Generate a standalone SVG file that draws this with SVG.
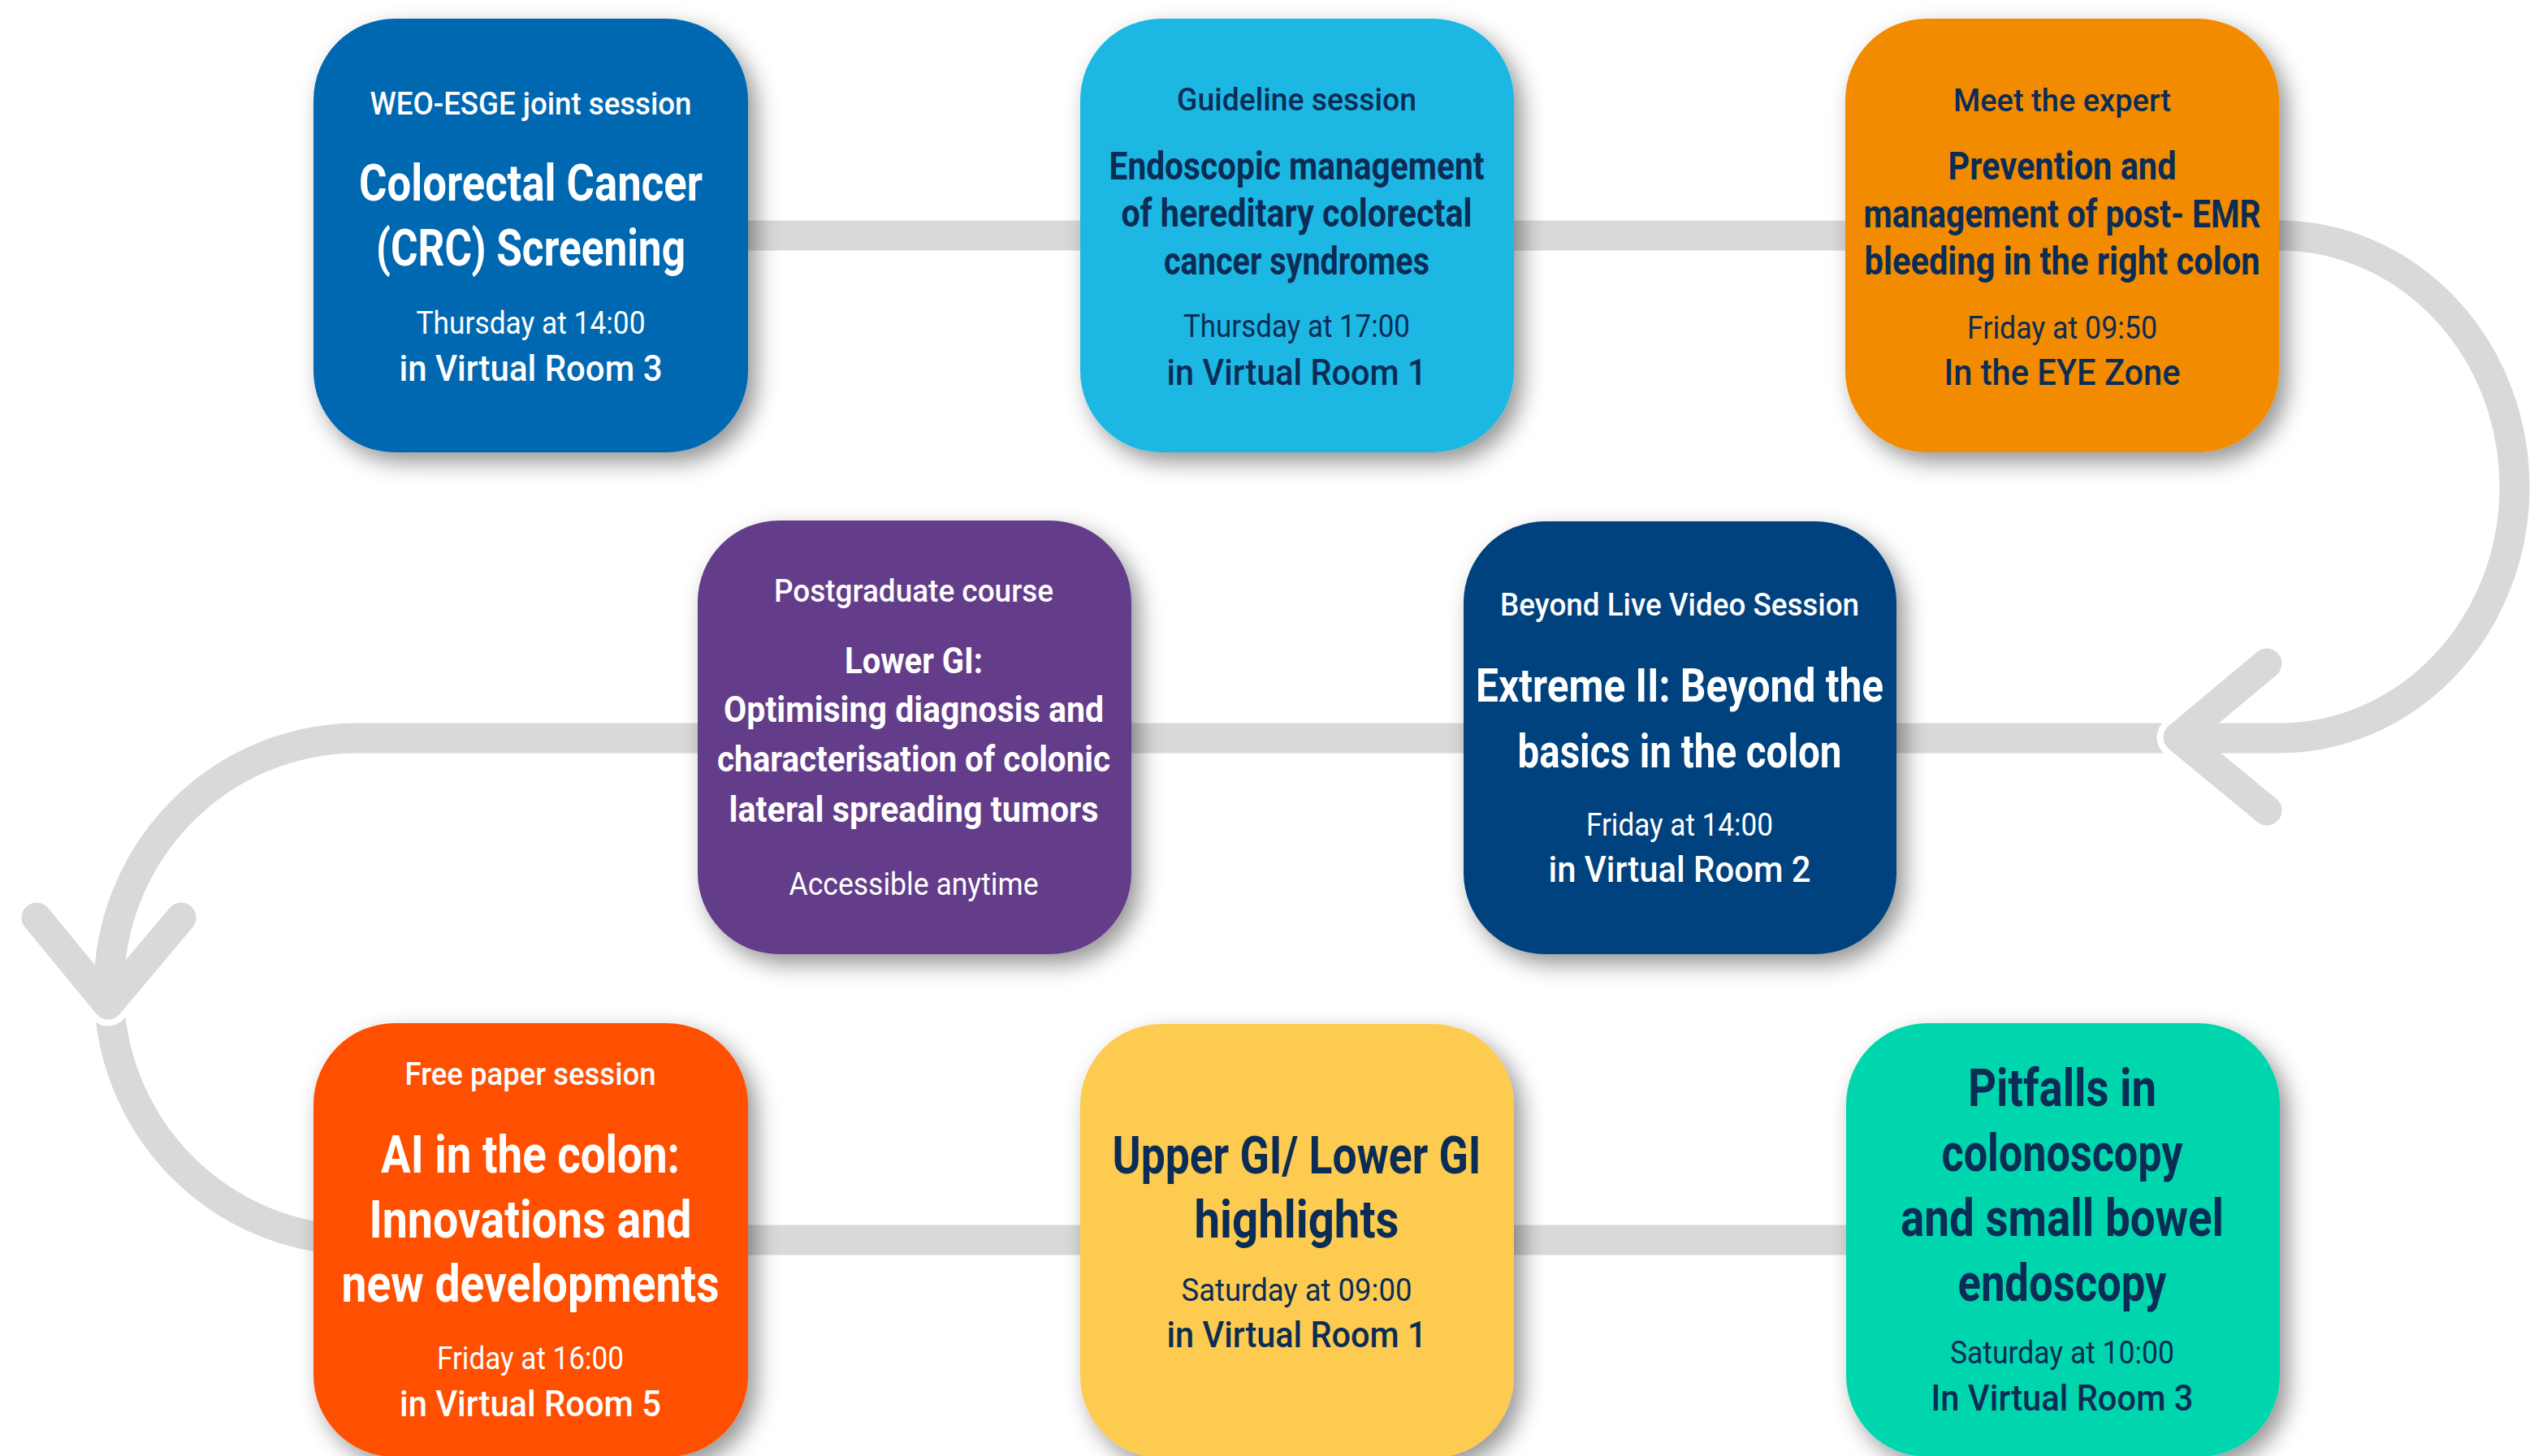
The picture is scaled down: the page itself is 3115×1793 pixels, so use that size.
<svg xmlns="http://www.w3.org/2000/svg" width="3115" height="1793" viewBox="0 0 3115 1793">
<defs>
<style>
text{font-family:Roboto,"Liberation Sans",Arial,sans-serif;text-anchor:middle}
.sub{font-weight:500;font-size:39px}
.ttl{font-weight:700}
.time{font-weight:400;font-size:39px}
.room{font-weight:500;font-size:45px}
.w{fill:#ffffff}
.d{fill:#0b2c55}
.line{fill:none;stroke:#d9d9d9;stroke-width:37}
.chev{fill:none;stroke:#d9d9d9;stroke-width:37;stroke-linecap:round;stroke-linejoin:round}
.gap{fill:none;stroke:#ffffff;stroke-width:53;stroke-linecap:round;stroke-linejoin:round}
.box{filter:url(#sh)}
</style>
<filter id="sh" x="-15%" y="-15%" width="135%" height="135%">
<feDropShadow dx="10" dy="12" stdDeviation="14" flood-color="#000" flood-opacity="0.42"/>
</filter>
<clipPath id="cR"><rect x="2600" y="850" width="90" height="120"/></clipPath>
<clipPath id="cL"><rect x="80" y="1229" width="110" height="60"/></clipPath>
</defs>
<rect width="3115" height="1793" fill="#ffffff"/>
<g id="connectors">
<path class="line" d="M700 290 H2806 A290 309.5 0 0 1 2806 909 H440 A306 309 0 0 0 440 1527 H2500"/>
<path class="gap" clip-path="url(#cR)" d="M2791 817 L2682 908 L2791 998"/>
<path class="chev" d="M2791 817 L2682 908 L2791 998"/>
<path class="gap" clip-path="url(#cL)" d="M45 1130 L133 1237 L223 1130"/>
<path class="chev" d="M45 1130 L133 1237 L223 1130"/>
</g>
<g id="n1">
<rect class="box" x="386" y="23" width="535" height="534" rx="100" fill="#0067b1"/>
<text class="sub w" x="653.5" y="141" textLength="396" lengthAdjust="spacingAndGlyphs">WEO-ESGE joint session</text>
<text class="ttl w" x="653.5" y="247" font-size="63" textLength="423" lengthAdjust="spacingAndGlyphs">Colorectal Cancer</text>
<text class="ttl w" x="653.5" y="327" font-size="63" textLength="381" lengthAdjust="spacingAndGlyphs">(CRC) Screening</text>
<text class="time w" x="653.5" y="411" textLength="282" lengthAdjust="spacingAndGlyphs">Thursday at 14:00</text>
<text class="room w" x="653.5" y="469" textLength="324" lengthAdjust="spacingAndGlyphs">in Virtual Room 3</text>
</g>
<g id="n2">
<rect class="box" x="1330" y="23" width="534" height="534" rx="100" fill="#1cb8e3"/>
<text class="sub d" x="1596.5" y="136" textLength="295" lengthAdjust="spacingAndGlyphs">Guideline session</text>
<text class="ttl d" x="1596.5" y="221" font-size="49" textLength="462" lengthAdjust="spacingAndGlyphs">Endoscopic management</text>
<text class="ttl d" x="1596.5" y="279" font-size="49" textLength="432" lengthAdjust="spacingAndGlyphs">of hereditary colorectal</text>
<text class="ttl d" x="1596.5" y="337.5" font-size="49" textLength="327" lengthAdjust="spacingAndGlyphs">cancer syndromes</text>
<text class="time d" x="1596.5" y="415" textLength="279" lengthAdjust="spacingAndGlyphs">Thursday at 17:00</text>
<text class="room d" x="1596.5" y="474" textLength="320" lengthAdjust="spacingAndGlyphs">in Virtual Room 1</text>
</g>
<g id="n3">
<rect class="box" x="2272" y="23" width="534" height="534" rx="100" fill="#f28b00"/>
<text class="sub d" x="2539" y="137" font-size="40" textLength="268" lengthAdjust="spacingAndGlyphs">Meet the expert</text>
<text class="ttl d" x="2539" y="221" font-size="49" textLength="281" lengthAdjust="spacingAndGlyphs">Prevention and</text>
<text class="ttl d" x="2539" y="280" font-size="49" textLength="489" lengthAdjust="spacingAndGlyphs">management of post- EMR</text>
<text class="ttl d" x="2539" y="338" font-size="49" textLength="487" lengthAdjust="spacingAndGlyphs">bleeding in the right colon</text>
<text class="time d" x="2539" y="416.6" font-size="40" textLength="234" lengthAdjust="spacingAndGlyphs">Friday at 09:50</text>
<text class="room d" x="2539" y="473.5" font-size="44" textLength="291" lengthAdjust="spacingAndGlyphs">In the EYE Zone</text>
</g>
<g id="n4">
<rect class="box" x="859" y="641" width="534" height="534" rx="100" fill="#633e8a"/>
<text class="sub w" x="1125" y="741" font-size="38.5" textLength="344" lengthAdjust="spacingAndGlyphs">Postgraduate course</text>
<text class="ttl w" x="1125" y="829" font-size="45" textLength="170" lengthAdjust="spacingAndGlyphs">Lower GI:</text>
<text class="ttl w" x="1125" y="889" font-size="45" textLength="468" lengthAdjust="spacingAndGlyphs">Optimising diagnosis and</text>
<text class="ttl w" x="1125" y="950" font-size="45" textLength="484" lengthAdjust="spacingAndGlyphs">characterisation of colonic</text>
<text class="ttl w" x="1125" y="1012" font-size="45" textLength="455" lengthAdjust="spacingAndGlyphs">lateral spreading tumors</text>
<text class="time w" x="1125" y="1102" font-size="38.5" textLength="307" lengthAdjust="spacingAndGlyphs">Accessible anytime</text>
</g>
<g id="n5">
<rect class="box" x="1802" y="642" width="533" height="533" rx="100" fill="#00427e"/>
<text class="sub w" x="2068" y="758" font-size="38" textLength="442" lengthAdjust="spacingAndGlyphs">Beyond Live Video Session</text>
<text class="ttl w" x="2068" y="864" font-size="58" textLength="502" lengthAdjust="spacingAndGlyphs">Extreme II: Beyond the</text>
<text class="ttl w" x="2068" y="945" font-size="58" textLength="399" lengthAdjust="spacingAndGlyphs">basics in the colon</text>
<text class="time w" x="2068" y="1029" textLength="230" lengthAdjust="spacingAndGlyphs">Friday at 14:00</text>
<text class="room w" x="2068" y="1086" textLength="323" lengthAdjust="spacingAndGlyphs">in Virtual Room 2</text>
</g>
<g id="n6">
<rect class="box" x="386" y="1260" width="535" height="534" rx="100" fill="#ff5000"/>
<text class="sub w" x="653" y="1336" font-size="38" textLength="309" lengthAdjust="spacingAndGlyphs">Free paper session</text>
<text class="ttl w" x="653" y="1443.5" font-size="65" textLength="368" lengthAdjust="spacingAndGlyphs">AI in the colon:</text>
<text class="ttl w" x="653" y="1524" font-size="65" textLength="397" lengthAdjust="spacingAndGlyphs">Innovations and</text>
<text class="ttl w" x="653" y="1603" font-size="65" textLength="465" lengthAdjust="spacingAndGlyphs">new developments</text>
<text class="time w" x="653" y="1686" textLength="230" lengthAdjust="spacingAndGlyphs">Friday at 16:00</text>
<text class="room w" x="653" y="1744" font-size="44" textLength="322" lengthAdjust="spacingAndGlyphs">in Virtual Room 5</text>
</g>
<g id="n7">
<rect class="box" x="1330" y="1261" width="534" height="534" rx="100" fill="#fccb50"/>
<text class="ttl d" x="1596.5" y="1444.6" font-size="65" textLength="454" lengthAdjust="spacingAndGlyphs">Upper GI/ Lower GI</text>
<text class="ttl d" x="1596.5" y="1524" font-size="65" textLength="252" lengthAdjust="spacingAndGlyphs">highlights</text>
<text class="time d" x="1596.5" y="1601.6" font-size="38" textLength="284" lengthAdjust="spacingAndGlyphs">Saturday at 09:00</text>
<text class="room d" x="1596.5" y="1659" font-size="44" textLength="320" lengthAdjust="spacingAndGlyphs">in Virtual Room 1</text>
</g>
<g id="n8">
<rect class="box" x="2273" y="1260" width="534" height="534" rx="100" fill="#00d6ad"/>
<text class="ttl d" x="2539" y="1362" font-size="64" textLength="232" lengthAdjust="spacingAndGlyphs">Pitfalls in</text>
<text class="ttl d" x="2539" y="1442" font-size="64" textLength="297" lengthAdjust="spacingAndGlyphs">colonoscopy</text>
<text class="ttl d" x="2539" y="1521.5" font-size="64" textLength="398" lengthAdjust="spacingAndGlyphs">and small bowel</text>
<text class="ttl d" x="2539" y="1601.6" font-size="64" textLength="257" lengthAdjust="spacingAndGlyphs">endoscopy</text>
<text class="time d" x="2539" y="1679" font-size="38" textLength="276" lengthAdjust="spacingAndGlyphs">Saturday at 10:00</text>
<text class="room d" x="2539" y="1737" font-size="44" textLength="323" lengthAdjust="spacingAndGlyphs">In Virtual Room 3</text>
</g>
</svg>
